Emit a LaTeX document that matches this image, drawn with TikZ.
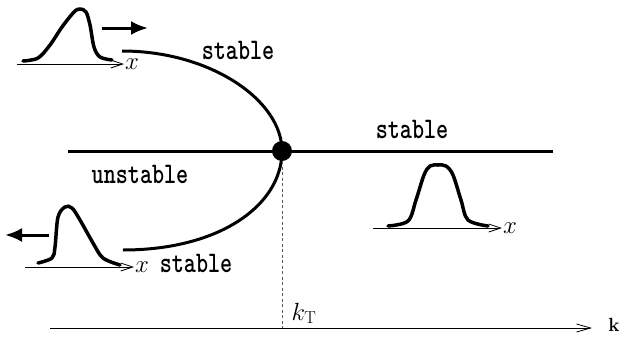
\documentclass[tikz,border=0pt]{standalone}
\usepackage{amsmath}
\usetikzlibrary{arrows.meta}

\begin{document}
\begin{tikzpicture}[
      x=1pt, y=-1pt,
      lbl/.style={font=\fontsize{23}{23}\selectfont\ttfamily\bfseries, anchor=base,
                  inner sep=0pt, yscale=1.3, transform shape},
      xlbl/.style={font=\fontsize{26}{26}\selectfont, anchor=west, inner sep=1pt},
      branch/.style={line width=3pt},
      pulse/.style={line width=3.5pt, line cap=round},
      paxis/.style={line width=0.8pt, -{Straight Barb[length=12pt, width=8pt]}},
      move/.style={line width=3pt, -{Latex[length=17pt, width=14pt]}},
    ]
    \useasboundingbox (0,0) rectangle (619,338);

    % branches
    \coordinate (lft) at (68,151);
    \coordinate (rgt) at (553,151);
    \coordinate (up)  at (122,51);
    \coordinate (lo)  at (123,250);
    \draw[branch] (lft) -- (rgt);
    \node[circle, fill, inner sep=0pt, minimum size=20pt] (crit) at (282,151) {};
    \draw[branch] (up) .. controls (210,51) and (282,100) .. (crit.center);
    \draw[branch] (crit.center) .. controls (282,205) and (220,250) .. (lo);

    % k axis
    \coordinate (k0) at (50,328);
    \coordinate (k1) at (592,328);
    \coordinate (kfoot) at (282,328);
    \draw[line width=0.8pt, -{Straight Barb[length=14pt, width=8pt]}] (k0) -- (k1);
    \draw[black!65, dash pattern=on 3pt off 2.5pt, line width=1pt] (crit) -- (kfoot);
    \node[font=\fontsize{25}{25}\selectfont, anchor=base] (kT) at (304,320) {$k_{\mathrm{T}}$};
    \node[font=\fontsize{19}{19}\selectfont\bfseries, anchor=base] (klbl) at (614,331) {k};

    % labels
    \node[lbl] (st1) at (238,59)  {stable};
    \node[lbl] (st2) at (412,138) {stable};
    \node[lbl] (st3) at (196,272) {stable};
    \node[lbl] (unst) at (140,183) {unstable};

    % pulse moving right
    \coordinate (a1) at (17,64);  \coordinate (b1) at (124,64);
    \draw[paxis] (a1) -- (b1);
    \node[xlbl] (x1) at (b1) {$x$};
    \draw[pulse] plot[smooth, tension=0.55] coordinates {(23,61) (38,58) (50,45) (62,27)
      (74,12) (80,9) (86,12) (90,25) (94,47) (100,57) (112,60)};
    \coordinate (m1) at (102,28); \coordinate (n1) at (148,28);
    \draw[move] (m1) -- (n1);

    % pulse moving left
    \coordinate (a2) at (25,267); \coordinate (b2) at (134,267);
    \draw[paxis] (a2) -- (b2);
    \node[xlbl] (x2) at (b2) {$x$};
    \draw[pulse] plot[smooth, tension=0.55] coordinates {(38,263) (52,258) (55,247) (58,217)
      (65,207) (72,208) (80,220) (93,243) (103,258) (120,265)};
    \coordinate (m2) at (49,235); \coordinate (n2) at (5,235);
    \draw[move] (m2) -- (n2);

    % standing pulse
    \coordinate (a3) at (373,228); \coordinate (b3) at (502,228);
    \draw[paxis] (a3) -- (b3);
    \node[xlbl] (x3) at (b3) {$x$};
    \draw[pulse] plot[smooth, tension=0.55] coordinates {(388,226) (408,221) (416,200) (424,175)
      (430,166) (438,165) (446,166) (453,175) (461,200) (468,220) (488,226)};

  \end{tikzpicture}
\end{document}
